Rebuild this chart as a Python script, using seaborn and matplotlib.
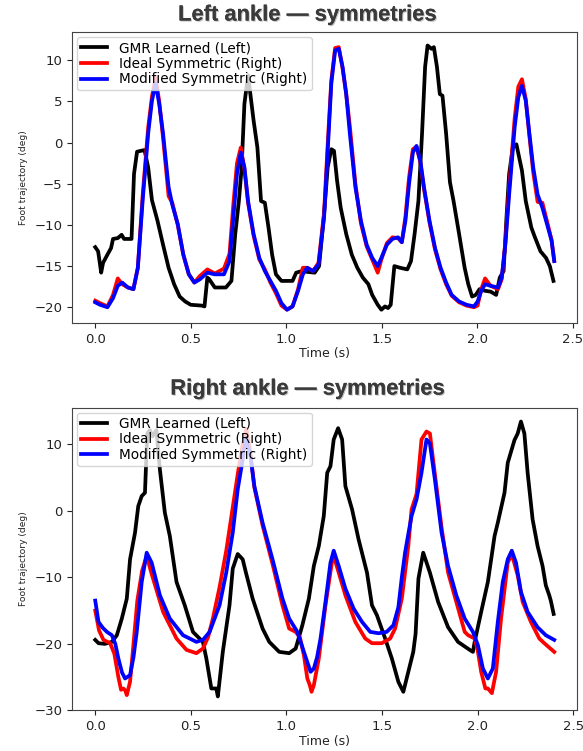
import numpy as np
import pandas as pd
import seaborn as sns
import matplotlib.pyplot as plt
import matplotlib.patheffects as pe

# ---- left ankle (top panel) ----
left_gmr_t = [0.0, 0.015, 0.025, 0.031, 0.041, 0.064, 0.083, 0.093, 0.118, 0.138, 0.151, 0.19,
              0.203, 0.219, 0.258, 0.277, 0.297, 0.326, 0.355, 0.384, 0.413, 0.442, 0.471, 0.5,
              0.558, 0.572, 0.587, 0.597, 0.626, 0.684, 0.713, 0.733, 0.752, 0.766, 0.781, 0.8,
              0.81, 0.829, 0.849, 0.868, 0.888, 0.907, 0.926, 0.946, 0.975, 1.033, 1.052, 1.081,
              1.11, 1.149, 1.172, 1.198, 1.217, 1.236, 1.25, 1.266, 1.285, 1.314, 1.343, 1.372,
              1.401, 1.43, 1.45, 1.479, 1.498, 1.517, 1.533, 1.547, 1.566, 1.595, 1.634, 1.653,
              1.672, 1.692, 1.711, 1.727, 1.74, 1.76, 1.773, 1.789, 1.804, 1.818, 1.837, 1.857,
              1.876, 1.905, 1.934, 1.953, 1.973, 1.992, 2.012, 2.041, 2.07, 2.099, 2.118, 2.138,
              2.153, 2.167, 2.186, 2.205, 2.234, 2.254, 2.283, 2.302, 2.331, 2.36, 2.38, 2.399]
left_gmr = [-12.7, -13.2, -14.8, -15.8, -14.6, -13.6, -12.8, -11.7, -11.6, -11.2, -11.7, -11.7,
            -3.8, -1.1, -0.9, -3.0, -7.0, -9.5, -12.4, -15.2, -17.2, -18.7, -19.3, -19.7,
            -19.8, -19.9, -16.4, -16.6, -17.6, -17.6, -16.8, -11.1, -7.1, -3.2, 4.7, 8.2,
            6.3, 2.7, -0.6, -7.1, -7.3, -10.3, -13.6, -16.0, -16.8, -16.8, -15.8, -15.6,
            -15.7, -15.8, -15.0, -8.7, -3.0, -0.8, -1.0, -4.6, -7.9, -11.1, -13.6, -15.2,
            -16.4, -17.2, -18.5, -19.7, -20.3, -19.9, -20.1, -19.7, -15.0, -15.2, -15.4, -14.4,
            -11.1, -7.1, 1.1, 9.2, 11.8, 11.4, 11.6, 9.2, 5.9, 5.7, 1.1, -4.8,
            -7.1, -11.1, -15.2, -17.2, -18.7, -18.5, -17.8, -18.0, -18.1, -18.5, -16.4, -15.6,
            -9.1, -3.8, -0.6, -0.2, -3.4, -7.1, -10.3, -11.5, -13.2, -14.0, -15.0, -16.8]

left_ideal_t = [0.0, 0.025, 0.064, 0.093, 0.118, 0.141, 0.171, 0.2, 0.223, 0.248, 0.277, 0.297,
                0.316, 0.335, 0.355, 0.384, 0.403, 0.432, 0.461, 0.49, 0.519, 0.548, 0.587, 0.626,
                0.674, 0.703, 0.723, 0.742, 0.762, 0.781, 0.8, 0.829, 0.859, 0.888, 0.917, 0.946,
                0.975, 1.004, 1.033, 1.062, 1.087, 1.11, 1.14, 1.169, 1.198, 1.217, 1.236, 1.256,
                1.275, 1.295, 1.314, 1.333, 1.362, 1.391, 1.421, 1.45, 1.479, 1.498, 1.527, 1.556,
                1.585, 1.605, 1.624, 1.643, 1.663, 1.682, 1.702, 1.721, 1.75, 1.779, 1.808, 1.837,
                1.866, 1.905, 1.944, 1.983, 2.002, 2.021, 2.041, 2.07, 2.109, 2.128, 2.147, 2.167,
                2.196, 2.215, 2.234, 2.254, 2.273, 2.293, 2.316, 2.341, 2.37, 2.389, 2.403]
left_ideal = [-19.2, -19.5, -19.9, -18.5, -16.5, -17.2, -17.6, -17.8, -15.2, -6.5, 1.8, 5.6,
              7.9, 5.0, 0.6, -6.5, -7.3, -10.0, -13.6, -16.0, -17.0, -16.2, -15.4, -15.9,
              -15.3, -13.5, -7.5, -2.5, -0.6, -3.2, -7.3, -11.3, -14.2, -15.4, -17.0, -18.3,
              -19.8, -20.3, -19.9, -17.8, -15.2, -15.2, -15.6, -14.6, -8.5, -0.2, 7.6, 11.5,
              11.6, 9.0, 5.9, 2.0, -5.0, -9.8, -12.6, -14.2, -15.8, -14.2, -12.2, -11.5,
              -11.6, -12.1, -9.0, -4.2, -0.8, -0.5, -2.4, -5.6, -9.7, -13.0, -15.4, -17.2,
              -18.6, -19.4, -19.8, -20.0, -19.8, -17.8, -16.5, -17.4, -17.8, -16.6, -12.2, -5.5,
              3.0, 6.8, 7.7, 5.3, 0.8, -3.6, -7.2, -7.3, -10.0, -11.8, -14.3]

left_mod_t = [0.0, 0.025, 0.064, 0.093, 0.118, 0.141, 0.171, 0.2, 0.223, 0.248, 0.277, 0.297,
              0.316, 0.335, 0.355, 0.384, 0.403, 0.432, 0.461, 0.49, 0.519, 0.548, 0.587, 0.626,
              0.674, 0.703, 0.723, 0.742, 0.762, 0.781, 0.8, 0.829, 0.859, 0.888, 0.917, 0.946,
              0.975, 1.004, 1.033, 1.062, 1.087, 1.11, 1.14, 1.169, 1.198, 1.217, 1.236, 1.256,
              1.275, 1.295, 1.314, 1.333, 1.362, 1.391, 1.421, 1.45, 1.479, 1.498, 1.527, 1.556,
              1.585, 1.605, 1.624, 1.643, 1.663, 1.682, 1.702, 1.721, 1.75, 1.779, 1.808, 1.837,
              1.866, 1.905, 1.944, 1.983, 2.002, 2.021, 2.041, 2.07, 2.109, 2.128, 2.147, 2.167,
              2.196, 2.215, 2.234, 2.254, 2.273, 2.293, 2.316, 2.341, 2.37, 2.389, 2.403]
left_mod = [-19.4, -19.7, -20.0, -18.9, -17.4, -17.0, -17.6, -17.8, -15.2, -7.1, 1.1, 5.1,
            7.2, 4.7, 1.1, -5.4, -7.5, -9.9, -13.6, -16.0, -17.0, -16.6, -15.8, -16.0,
            -16.0, -14.4, -9.1, -3.8, -1.2, -3.0, -7.1, -11.1, -14.0, -15.6, -16.8, -18.0,
            -19.5, -20.3, -19.9, -18.0, -16.0, -15.2, -15.6, -14.8, -9.1, -1.0, 7.2, 11.2,
            11.4, 9.2, 5.9, 1.1, -5.4, -9.5, -12.4, -14.0, -15.0, -14.0, -12.4, -11.7,
            -11.5, -12.1, -9.5, -5.0, -1.2, -0.4, -2.2, -5.4, -9.5, -12.8, -15.2, -17.0,
            -18.5, -19.3, -19.7, -19.9, -19.3, -18.0, -17.2, -17.4, -17.6, -16.4, -12.4, -6.3,
            1.9, 5.5, 6.9, 5.1, 1.1, -3.0, -6.3, -7.9, -10.3, -11.9, -14.4]

# ---- right ankle (bottom panel) ----
right_gmr_t = [0.0, 0.017, 0.05, 0.087, 0.113, 0.139, 0.165, 0.182, 0.208, 0.225, 0.243, 0.26,
               0.272, 0.286, 0.3, 0.32, 0.338, 0.364, 0.39, 0.425, 0.468, 0.511, 0.563, 0.581,
               0.607, 0.633, 0.641, 0.667, 0.702, 0.719, 0.745, 0.771, 0.788, 0.823, 0.875, 0.91,
               0.962, 1.014, 1.048, 1.083, 1.117, 1.143, 1.169, 1.195, 1.213, 1.23, 1.247, 1.27,
               1.291, 1.308, 1.343, 1.377, 1.421, 1.447, 1.473, 1.516, 1.551, 1.585, 1.611, 1.637,
               1.663, 1.675, 1.69, 1.715, 1.75, 1.793, 1.845, 1.897, 1.958, 1.975, 1.984, 2.018,
               2.053, 2.088, 2.105, 2.14, 2.157, 2.192, 2.209, 2.226, 2.244, 2.261, 2.287, 2.313,
               2.339, 2.356, 2.374, 2.382, 2.397]
right_gmr = [-19.4, -19.9, -20.0, -19.7, -18.7, -16.2, -13.2, -7.3, -3.3, 0.7, 2.2, 2.7,
             11.6, 12.1, 11.2, 12.1, 6.2, -0.3, -3.8, -10.7, -14.2, -18.2, -19.7, -22.2,
             -26.7, -26.7, -27.9, -21.2, -14.2, -8.7, -6.5, -7.3, -9.3, -13.2, -17.7, -19.7,
             -21.2, -21.4, -20.7, -17.2, -13.2, -8.3, -5.3, -0.8, 5.7, 6.7, 10.7, 12.4,
             10.7, 3.7, 0.2, -4.3, -9.3, -14.2, -15.7, -19.2, -22.2, -25.7, -27.2, -24.2,
             -21.2, -18.5, -10.2, -6.3, -9.3, -13.7, -17.5, -19.7, -20.9, -21.2, -19.7, -15.2,
             -10.7, -3.8, -1.8, 2.7, 7.2, 10.6, 11.6, 13.4, 11.6, 5.7, -1.3, -5.3,
             -8.3, -11.2, -12.7, -13.5, -15.5]

right_ideal_t = [0.0, 0.02, 0.043, 0.078, 0.1, 0.121, 0.135, 0.147, 0.157, 0.165, 0.182, 0.2,
                 0.22, 0.245, 0.269, 0.295, 0.355, 0.425, 0.477, 0.529, 0.563, 0.59, 0.615, 0.65,
                 0.685, 0.719, 0.745, 0.771, 0.79, 0.81, 0.832, 0.875, 0.927, 0.979, 1.014, 1.048,
                 1.07, 1.091, 1.109, 1.122, 1.131, 1.143, 1.169, 1.204, 1.244, 1.273, 1.308, 1.36,
                 1.412, 1.447, 1.498, 1.542, 1.568, 1.603, 1.637, 1.654, 1.68, 1.706, 1.732, 1.75,
                 1.776, 1.811, 1.845, 1.888, 1.932, 1.95, 1.984, 2.0, 2.018, 2.04, 2.053, 2.074,
                 2.096, 2.122, 2.157, 2.178, 2.209, 2.235, 2.278, 2.322, 2.348, 2.4]
right_ideal = [-15.0, -18.0, -19.4, -19.9, -21.5, -25.0, -26.9, -26.7, -27.0, -27.7, -25.7, -20.0,
               -13.5, -9.0, -6.8, -9.5, -15.2, -19.2, -20.9, -21.4, -20.7, -19.0, -16.2, -11.5,
               -6.0, 0.5, 5.5, 10.0, 12.3, 9.0, 3.5, -2.2, -8.0, -14.2, -17.7, -18.2,
               -19.0, -21.7, -25.2, -26.2, -27.2, -26.2, -22.2, -14.2, -6.5, -9.3, -12.7, -16.7,
               -19.2, -19.9, -19.9, -19.2, -17.7, -13.2, -5.3, 0.2, 2.5, 10.7, 11.9, 11.6,
               5.5, -2.5, -9.3, -13.7, -18.2, -18.7, -19.2, -21.0, -24.2, -26.7, -26.7, -27.4,
               -24.2, -16.2, -7.8, -6.5, -9.7, -13.7, -16.7, -19.2, -19.9, -21.2]

right_mod_t = [0.0, 0.017, 0.04, 0.061, 0.087, 0.105, 0.121, 0.14, 0.156, 0.182, 0.2, 0.217,
               0.243, 0.269, 0.295, 0.338, 0.39, 0.459, 0.529, 0.563, 0.598, 0.65, 0.685, 0.719,
               0.745, 0.771, 0.788, 0.81, 0.832, 0.875, 0.927, 0.979, 1.014, 1.057, 1.091, 1.126,
               1.143, 1.16, 1.178, 1.204, 1.23, 1.247, 1.273, 1.308, 1.351, 1.395, 1.438, 1.481,
               1.524, 1.559, 1.585, 1.603, 1.62, 1.637, 1.654, 1.68, 1.706, 1.732, 1.75, 1.776,
               1.811, 1.845, 1.888, 1.932, 1.975, 2.001, 2.027, 2.053, 2.079, 2.105, 2.131, 2.157,
               2.178, 2.2, 2.226, 2.261, 2.313, 2.356, 2.4]
right_mod = [-13.5, -16.7, -17.6, -18.2, -18.7, -20.0, -22.2, -24.3, -25.2, -24.7, -22.0, -18.2,
             -10.7, -6.3, -7.8, -12.7, -16.2, -18.7, -19.7, -19.4, -18.2, -14.2, -9.3, -3.3,
             3.2, 7.7, 10.9, 8.5, 3.7, -1.8, -7.3, -13.2, -16.2, -18.2, -21.2, -24.2,
             -23.7, -22.0, -19.2, -13.7, -7.8, -6.0, -8.3, -11.7, -14.7, -16.7, -18.2, -18.4,
             -18.2, -17.2, -14.5, -10.0, -6.3, -3.5, -0.8, 1.7, 5.7, 10.7, 10.1, 4.7,
             -3.3, -8.3, -12.7, -16.2, -18.2, -20.2, -23.7, -25.2, -23.7, -16.7, -10.7, -7.3,
             -6.0, -7.8, -12.2, -15.2, -17.5, -18.7, -19.4]

series_labels = ["GMR Learned (Left)", "Ideal Symmetric (Right)", "Modified Symmetric (Right)"]
series_colors = ["black", "red", "blue"]

panels = [
    ("Left ankle \u2014 symmetries",
     [(left_gmr_t, left_gmr), (left_ideal_t, left_ideal), (left_mod_t, left_mod)],
     [-20, -15, -10, -5, 0, 5, 10]),
    ("Right ankle \u2014 symmetries",
     [(right_gmr_t, right_gmr), (right_ideal_t, right_ideal), (right_mod_t, right_mod)],
     [-30, -20, -10, 0, 10]),
]

fig = plt.figure(figsize=(5.83, 7.51), dpi=100)
axes_rects = [[0.124, 0.570, 0.866, 0.387], [0.124, 0.054, 0.866, 0.403]]
title_y = [0.980, 0.482]

for (title, series, yticks), rect, ty in zip(panels, axes_rects, title_y):
    ax = fig.add_axes(rect)
    for (t, v), lab, col in zip(series, series_labels, series_colors):
        df = pd.DataFrame({"t": t, "v": v})
        sns.lineplot(data=df, x="t", y="v", ax=ax, color=col, lw=2.7, label=lab,
                     sort=False, estimator=None)
    ax.set_yticks(yticks)
    ax.set_xticks([0.0, 0.5, 1.0, 1.5, 2.0, 2.5])
    ax.tick_params(labelsize=9.5, colors="#222222")
    ax.set_xlabel("Time (s)", fontsize=9, color="#222222", labelpad=1)
    ax.set_ylabel("Foot trajectory (deg)", fontsize=6.6, color="#222222", labelpad=5)
    ax.legend(loc="upper left", fontsize=9.8, handlelength=1.9, borderaxespad=0.35,
              labelspacing=0.12, borderpad=0.3, handletextpad=0.9)
    for s in ax.spines.values():
        s.set_color("#444444")
    fig.text(0.528, ty, title, ha="center", va="center", fontsize=15.8,
             fontweight="bold", family="Liberation Sans", color="#3a3a3a",
             path_effects=[pe.withSimplePatchShadow(offset=(0.8, -0.8), alpha=0.25),
                           pe.Normal()])

fig.savefig("out.png", dpi=100)
